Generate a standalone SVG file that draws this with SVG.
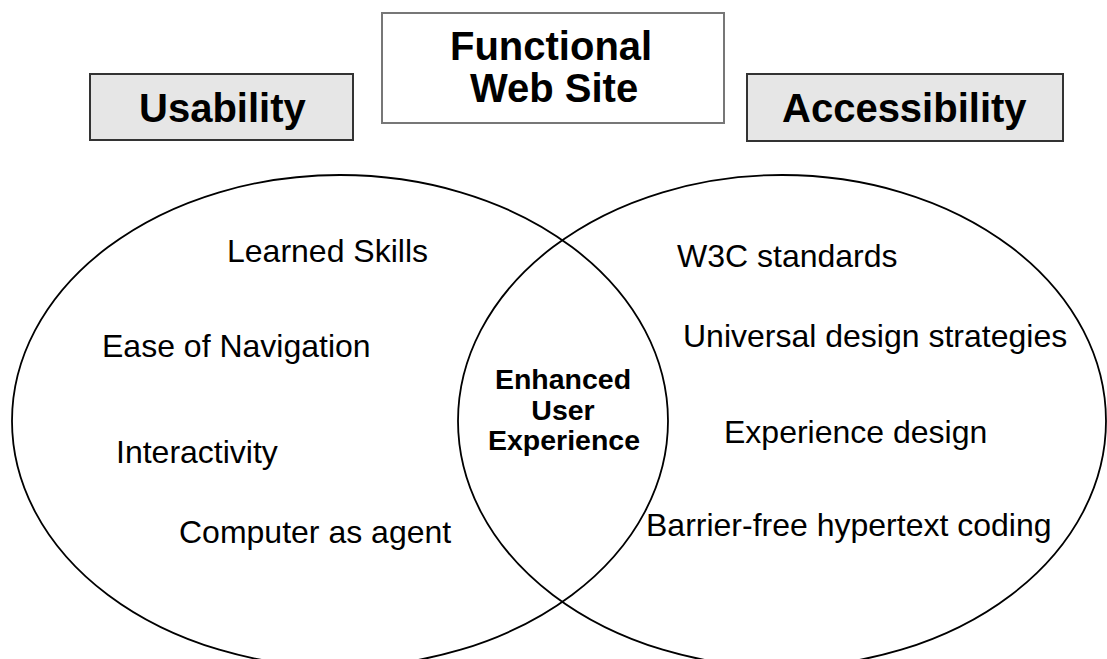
<svg xmlns="http://www.w3.org/2000/svg" width="1107" height="659" viewBox="0 0 1107 659">
  <style>
    .bg { fill: #ffffff; }
    .set { fill: none; stroke: #000000; stroke-width: 1.8; }
    .tag { fill: #e6e6e6; stroke: #333333; stroke-width: 2; }
    .title { fill: #ffffff; stroke: #777777; stroke-width: 2; }
    .head { font-family: "Liberation Sans", Arial, sans-serif; font-weight: bold; font-size: 40px; fill: #000000; }
    .item { font-family: "Liberation Sans", Arial, sans-serif; font-size: 32px; fill: #000000; }
    .core { font-family: "Liberation Sans", Arial, sans-serif; font-weight: bold; font-size: 28.5px; fill: #000000; }
  </style>

  <rect class="bg" x="0" y="0" width="1107" height="659"/>

  <!-- Header labels -->
  <g id="usability-label">
    <rect class="tag" x="90" y="74" width="263" height="66"/>
    <text class="head" x="139" y="121.5">Usability</text>
  </g>

  <g id="functional-web-site">
    <rect class="title" x="382" y="13" width="342" height="110"/>
    <text class="head" x="450" y="59.5">Functional</text>
    <text class="head" x="470" y="101.5">Web Site</text>
  </g>

  <g id="accessibility-label">
    <rect class="tag" x="747" y="74" width="316" height="67"/>
    <text class="head" x="782" y="121.5">Accessibility</text>
  </g>

  <!-- Usability set -->
  <g id="usability-set">
    <ellipse class="set" cx="340" cy="421" rx="328" ry="246"/>
    <text class="item" x="227" y="262">Learned Skills</text>
    <text class="item" x="102" y="357">Ease of Navigation</text>
    <text class="item" x="116" y="463">Interactivity</text>
    <text class="item" x="179" y="543">Computer as agent</text>
  </g>

  <!-- Accessibility set -->
  <g id="accessibility-set">
    <ellipse class="set" cx="782" cy="421" rx="324" ry="246"/>
    <text class="item" x="677" y="267">W3C standards</text>
    <text class="item" x="683" y="347">Universal design strategies</text>
    <text class="item" x="724" y="443">Experience design</text>
    <text class="item" x="646" y="536">Barrier-free hypertext coding</text>
  </g>

  <!-- Overlap -->
  <g id="enhanced-user-experience">
    <text class="core" x="563" y="389" text-anchor="middle">Enhanced</text>
    <text class="core" x="563" y="420" text-anchor="middle">User</text>
    <text class="core" x="564" y="450" text-anchor="middle">Experience</text>
  </g>
</svg>
